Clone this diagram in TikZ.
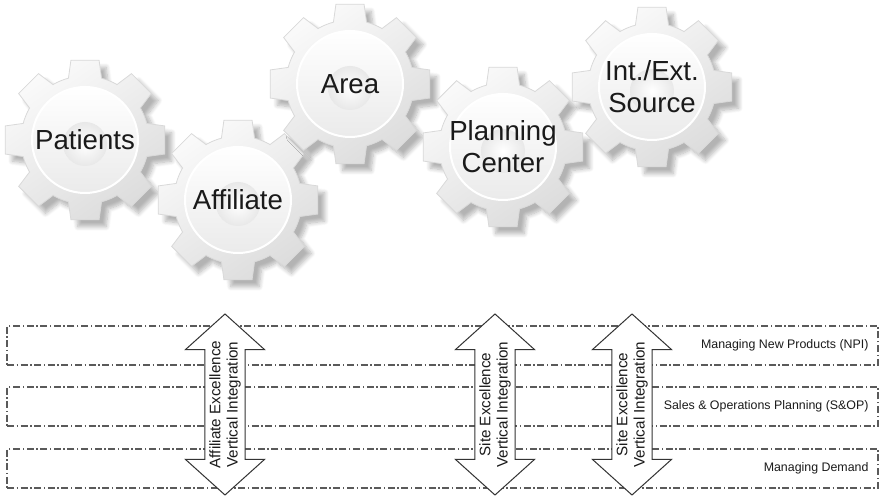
\documentclass[tikz,border=0pt]{standalone}
\usepackage{fontspec}
\setmainfont{Liberation Sans}
\definecolor{gearInk}{HTML}{1A1A1A}
\definecolor{laneLine}{HTML}{5A5A5A}
\usetikzlibrary{shapes.arrows, positioning, shadows.blur}

\begin{document}
\begin{tikzpicture}[x=0.5pt, y=-0.5pt,
  gearbody/.style={top color=gray!4, bottom color=gray!27, shading angle=35,
    draw=gray!30, line width=0.4pt,
    blur shadow={shadow xshift=3.5pt, shadow yshift=-3.5pt, shadow opacity=30, shadow blur steps=8}},
  gearface/.style={top color=white, bottom color=gray!16, draw=white, line width=1pt},
  gearhub/.style={inner color=white, outer color=gray!18},
  gearlbl/.style={align=center, text=gearInk, font=\fontsize{13.8}{16}\selectfont},
  band/.style={draw=laneLine, line width=0.6pt, dash pattern=on 3.5pt off 1.3pt on 0.7pt off 1.3pt,
    minimum width=435.5pt, minimum height=19.5pt, inner sep=0pt},
  lanelbl/.style={anchor=east, text=gearInk, font=\fontsize{6.2}{7}\selectfont},
  vertarrow/.style={shape=double arrow, rotate=90, draw=black!80, fill=white, line width=0.5pt,
    double arrow head extend=9.75pt, double arrow tip angle=96, minimum height=90.5pt,
    inner xsep=0pt, inner ysep=2pt, align=center, text=gearInk,
    font=\fontsize{7.6}{8.6}\selectfont}]

  \useasboundingbox (0,0) rectangle (880,496);

  % gears with their labels
  \foreach \gx/\gy/\gname/\gtext in {85/140/patients/Patients, 238/200/affiliate/Affiliate,
      350/84/area/Area, 503/147/planning/{Planning\\Center}, 652/87/source/{Int./Ext.\\Source}} {
    \begin{scope}[shift={(\gx,\gy)}]
      \path[gearbody] (-15:64) \foreach \t in {0,45,...,315} {
          -- (\t-15:64) -- (\t-10:81) -- (\t+10:81) -- (\t+15:64)
          arc[start angle=\t+15, end angle=\t+30, radius=64]} -- cycle;
      \path[gearface] (0,0) circle[radius=53];
      \path[gearhub] (0,4) circle[radius=22];
    \end{scope}
    \node[gearlbl] (\gname) at (\gx,\gy) {\gtext};
  }

  % process lanes
  \node[band] (npi) at (442.5,345.5) {};
  \node[band] (sop) at (442.5,406.5) {};
  \node[band] (dem) at (442.5,468.5) {};

  \node[lanelbl] (npiLbl) at ([xshift=-1.5pt]npi.east) {Managing New Products (NPI)};
  \node[lanelbl] (sopLbl) at ([xshift=-1.5pt]sop.east) {Sales \& Operations Planning (S\&OP)};
  \node[lanelbl] (demLbl) at ([xshift=-1.5pt]dem.east) {Managing Demand};

  % vertical integration arrows
  \node[vertarrow] (aff) at (225,404.5) {Affiliate Excellence\\Vertical Integration};
  \node[vertarrow] (siteA) at (495,404.5) {Site Excellence\\Vertical Integration};
  \node[vertarrow] (siteB) at (632,404.5) {Site Excellence\\Vertical Integration};
\end{tikzpicture}
\end{document}
